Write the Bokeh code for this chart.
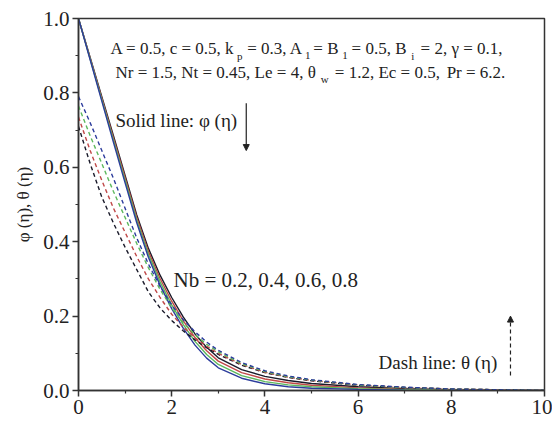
from bokeh.plotting import figure
from bokeh.models import Range1d, Label, Arrow, NormalHead, FixedTicker, PrintfTickFormatter
from bokeh.embed import file_html
from bokeh.resources import INLINE

# ---------------- data ----------------
eta = [0, 0.25, 0.5, 0.75, 1.0, 1.25, 1.5, 1.75, 2.0, 2.25, 2.5, 2.75, 3.0,
       3.5, 4.0, 4.5, 5, 6, 7, 8, 9, 10]

nb_values = ["0.2", "0.4", "0.6", "0.8"]

phi_02 = [1.0, 0.895, 0.79, 0.685, 0.578, 0.472, 0.382, 0.310, 0.250, 0.197, 0.152, 0.116, 0.088,
          0.056, 0.038, 0.027, 0.019, 0.010, 0.005, 0.002, 0.001, 0.0]
phi_04 = [1.0, 0.893, 0.786, 0.679, 0.572, 0.465, 0.374, 0.301, 0.240, 0.187, 0.142, 0.107, 0.079,
          0.048, 0.031, 0.021, 0.014, 0.007, 0.003, 0.001, 0.0, 0.0]
phi_06 = [1.0, 0.891, 0.782, 0.673, 0.565, 0.458, 0.366, 0.292, 0.230, 0.177, 0.132, 0.097, 0.070,
          0.040, 0.024, 0.015, 0.010, 0.005, 0.002, 0.001, 0.0, 0.0]
phi_08 = [1.0, 0.889, 0.778, 0.667, 0.558, 0.451, 0.358, 0.283, 0.220, 0.167, 0.122, 0.087, 0.061,
          0.033, 0.018, 0.010, 0.006, 0.003, 0.001, 0.0, 0.0, 0.0]

theta_02 = [0.71, 0.61, 0.52, 0.45, 0.385, 0.325, 0.265, 0.222, 0.188, 0.160, 0.136, 0.115, 0.097,
            0.068, 0.048, 0.035, 0.026, 0.014, 0.008, 0.004, 0.002, 0.0]
theta_04 = [0.735, 0.645, 0.565, 0.49, 0.425, 0.36, 0.30, 0.25, 0.205, 0.170, 0.142, 0.119, 0.100,
            0.070, 0.049, 0.036, 0.027, 0.015, 0.008, 0.004, 0.002, 0.0]
theta_06 = [0.765, 0.685, 0.61, 0.535, 0.465, 0.395, 0.33, 0.272, 0.222, 0.182, 0.150, 0.124, 0.104,
            0.072, 0.051, 0.037, 0.028, 0.015, 0.008, 0.004, 0.002, 0.0]
theta_08 = [0.79, 0.72, 0.645, 0.57, 0.49, 0.41, 0.34, 0.28, 0.23, 0.19, 0.158, 0.13, 0.108,
            0.075, 0.053, 0.039, 0.029, 0.016, 0.009, 0.004, 0.002, 0.0]

x_ticks = [0, 2, 4, 6, 8, 10]
x_minor = [1, 3, 5, 7, 9]
y_ticks = [0.0, 0.2, 0.4, 0.6, 0.8, 1.0]
y_minor = [0.1, 0.3, 0.5, 0.7, 0.9]

phis = [phi_02, phi_04, phi_06, phi_08]
thetas = [theta_02, theta_04, theta_06, theta_08]
colors = ["#1a1a2a", "#c04848", "#5cb85c", "#2c3c9c"]

SERIF = "Liberation Serif"

p = figure(width=552, height=424, x_range=Range1d(0, 10), y_range=Range1d(0, 1),
           output_backend="svg", toolbar_location=None,
           min_border_left=78, min_border_right=8, min_border_top=18, min_border_bottom=34)

p.background_fill_color = "white"
p.border_fill_color = "white"
p.grid.visible = False
p.outline_line_color = "#333333"
p.outline_line_width = 1.5

for ax in (p.xaxis, p.yaxis):
    ax.axis_line_color = "#333333"
    ax.axis_line_width = 1.5
    ax.major_tick_line_color = "#333333"
    ax.major_tick_line_width = 1.5
    ax.minor_tick_line_color = "#333333"
    ax.minor_tick_line_width = 1.2
    ax.major_tick_in = 0
    ax.major_tick_out = 6
    ax.minor_tick_in = 0
    ax.minor_tick_out = 3
    ax.major_label_text_font = SERIF
    ax.major_label_text_font_size = "21px"
    ax.major_label_text_color = "#222222"
    ax.major_label_standoff = 3

p.xaxis.ticker = FixedTicker(ticks=x_ticks, minor_ticks=x_minor)
p.yaxis.ticker = FixedTicker(ticks=y_ticks, minor_ticks=y_minor)
p.xaxis.formatter = PrintfTickFormatter(format="%d")
p.yaxis.formatter = PrintfTickFormatter(format="%.1f")

p.yaxis.axis_label = "φ (η), θ (η)"
p.yaxis.axis_label_text_font = SERIF
p.yaxis.axis_label_text_font_size = "17px"
p.yaxis.axis_label_text_font_style = "normal"
p.yaxis.axis_label_text_color = "#222222"
p.yaxis.axis_label_standoff = 7

for ys, c in zip(phis, colors):
    p.line(eta, ys, line_color=c, line_width=1.4)
for ys, c in zip(thetas, colors):
    p.line(eta, ys, line_color=c, line_width=1.4, line_dash="4 3")

# x-axis label placed level with the tick labels
p.add_layout(Label(x=4.95, y=-0.052, text="η", text_font=SERIF, text_font_size="19px",
                   text_align="center", text_baseline="middle", text_color="#222222"))

def lab(x, y, t, size="17px", baseline="alphabetic"):
    p.add_layout(Label(x=x, y=y, text=t, text_font=SERIF, text_font_size=size,
                       text_baseline=baseline, text_align="left", text_color="#222222"))

# parameter lines with subscripts
l1, s1 = 0.919, 0.900
lab(0.687, l1, "A = 0.5, c = 0.5, k")
lab(3.40, s1, "p", size="11px")
lab(3.62, l1, "= 0.3, A")
lab(4.86, s1, "1", size="11px")
lab(5.04, l1, "= B")
lab(5.66, s1, "1", size="11px")
lab(5.86, l1, "= 0.5, B")
lab(7.14, s1, "i", size="11px")
lab(7.34, l1, "= 2, γ = 0.1,")

l2, s2 = 0.855, 0.838
lab(0.794, l2, "Nr = 1.5, Nt = 0.45, Le = 4, θ")
lab(5.20, s2, "w", size="11px")
lab(5.50, l2, "= 1.2,  Ec = 0.5,")
lab(7.90, l2, "Pr = 6.2.")

lab(0.794, 0.726, "Solid line: φ (η)", size="19px", baseline="middle")
lab(2.04, 0.296, "Nb = " + ", ".join(nb_values), size="21px", baseline="middle")
lab(6.44, 0.075, "Dash line: θ (η)", size="19px", baseline="middle")

p.add_layout(Arrow(end=NormalHead(size=6, fill_color="#222222", line_color="#222222"),
                   x_start=3.6, y_start=0.772, x_end=3.6, y_end=0.645,
                   line_color="#222222", line_width=1.2))
p.add_layout(Arrow(end=NormalHead(size=6, fill_color="#222222", line_color="#222222"),
                   x_start=9.27, y_start=0.04, x_end=9.27, y_end=0.2,
                   line_color="#222222", line_width=1.2, line_dash="4 3"))

open("out.html", "w").write(file_html(p, INLINE))
